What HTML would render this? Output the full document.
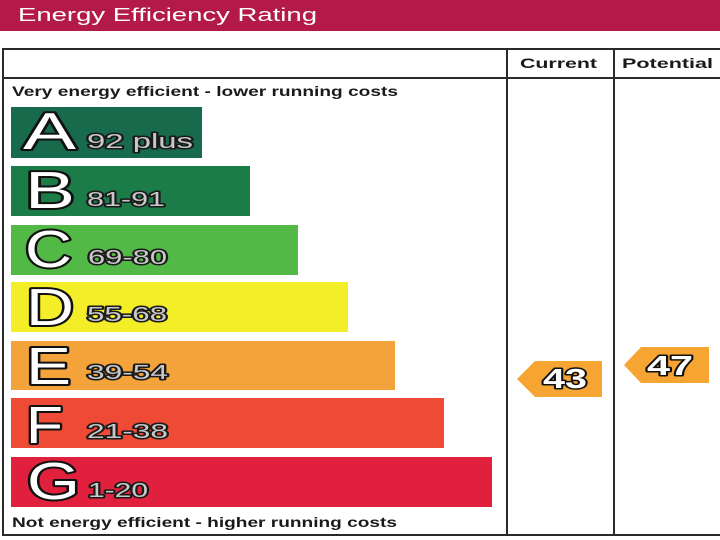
<!DOCTYPE html>
<html><head><meta charset="utf-8"><style>
html,body{margin:0;padding:0;background:#fff;}
svg{display:block;}
</style></head><body>
<svg width="720" height="540" viewBox="0 0 720 540" xmlns="http://www.w3.org/2000/svg" font-family="Liberation Sans, Arial, sans-serif">
<rect x="0" y="0" width="720" height="540" fill="#fff"/>
<!-- header -->
<rect x="0" y="0" width="720" height="31" fill="#b31a49"/>
<text x="18" y="21" font-size="18" fill="#fff" textLength="299" lengthAdjust="spacingAndGlyphs">Energy Efficiency Rating</text>

<!-- table lines -->
<g stroke="#2a2a2a" stroke-width="2" fill="none">
<line x1="2" y1="49" x2="720" y2="49"/>
<line x1="3" y1="48" x2="3" y2="536"/>
<line x1="2" y1="535" x2="720" y2="535"/>
<line x1="3" y1="78" x2="720" y2="78"/>
<line x1="507" y1="48" x2="507" y2="536"/>
<line x1="614" y1="48" x2="614" y2="536"/>
</g>

<g font-weight="bold" fill="#1a1a1a">
<text x="520" y="68" font-size="14" textLength="77" lengthAdjust="spacingAndGlyphs">Current</text>
<text x="622" y="68" font-size="14" textLength="91" lengthAdjust="spacingAndGlyphs">Potential</text>
<text x="12" y="96" font-size="14" textLength="386" lengthAdjust="spacingAndGlyphs">Very energy efficient - lower running costs</text>
<text x="12" y="527" font-size="14" textLength="385" lengthAdjust="spacingAndGlyphs">Not energy efficient - higher running costs</text>
</g>

<!-- bars -->
<rect x="11" y="107" width="191" height="51" fill="#176a4b"/>
<rect x="11" y="166" width="239" height="50" fill="#1b7c48"/>
<rect x="11" y="225" width="287" height="50" fill="#52b947"/>
<rect x="11" y="282" width="337" height="50" fill="#f3ee27"/>
<rect x="11" y="341" width="384" height="49" fill="#f4a33a"/>
<rect x="11" y="398" width="433" height="50" fill="#ee4a35"/>
<rect x="11" y="457" width="481" height="50" fill="#e0203d"/>

<!-- letters -->
<g font-size="52" fill="#fff" stroke="#111" stroke-width="4" paint-order="stroke" stroke-linejoin="round">
<text x="23" y="149" textLength="53" lengthAdjust="spacingAndGlyphs">A</text>
<text x="25" y="208" textLength="50" lengthAdjust="spacingAndGlyphs">B</text>
<text x="25" y="267" textLength="47" lengthAdjust="spacingAndGlyphs">C</text>
<text x="26" y="325" textLength="48" lengthAdjust="spacingAndGlyphs">D</text>
<text x="26" y="384" textLength="45" lengthAdjust="spacingAndGlyphs">E</text>
<text x="26" y="443" textLength="37" lengthAdjust="spacingAndGlyphs">F</text>
<text x="27" y="499" textLength="53" lengthAdjust="spacingAndGlyphs">G</text>
</g>

<!-- ranges -->
<g font-size="20" fill="#c8c8c8" stroke="#1a1a1a" stroke-width="3" paint-order="stroke" stroke-linejoin="round">
<text x="87" y="148" textLength="106" lengthAdjust="spacingAndGlyphs">92 plus</text>
<text x="87" y="206" textLength="78" lengthAdjust="spacingAndGlyphs">81-91</text>
<text x="88" y="264" textLength="79" lengthAdjust="spacingAndGlyphs">69-80</text>
<text x="87" y="321" textLength="80" lengthAdjust="spacingAndGlyphs">55-68</text>
<text x="87" y="379" textLength="81" lengthAdjust="spacingAndGlyphs">39-54</text>
<text x="87" y="438" textLength="81" lengthAdjust="spacingAndGlyphs">21-38</text>
<text x="88" y="497" textLength="60" lengthAdjust="spacingAndGlyphs">1-20</text>
</g>

<!-- arrows -->
<polygon points="517,379 535,361 602,361 602,397 535,397" fill="#f6a533"/>
<polygon points="624,365 641,347 709,347 709,383 641,383" fill="#f6a533"/>
<g font-size="28" font-weight="bold" fill="#fff" stroke="#111" stroke-width="3" paint-order="stroke" stroke-linejoin="round">
<text x="543" y="388" textLength="44" lengthAdjust="spacingAndGlyphs">43</text>
<text x="647" y="375" textLength="46" lengthAdjust="spacingAndGlyphs">47</text>
</g>
</svg>
</body></html>
